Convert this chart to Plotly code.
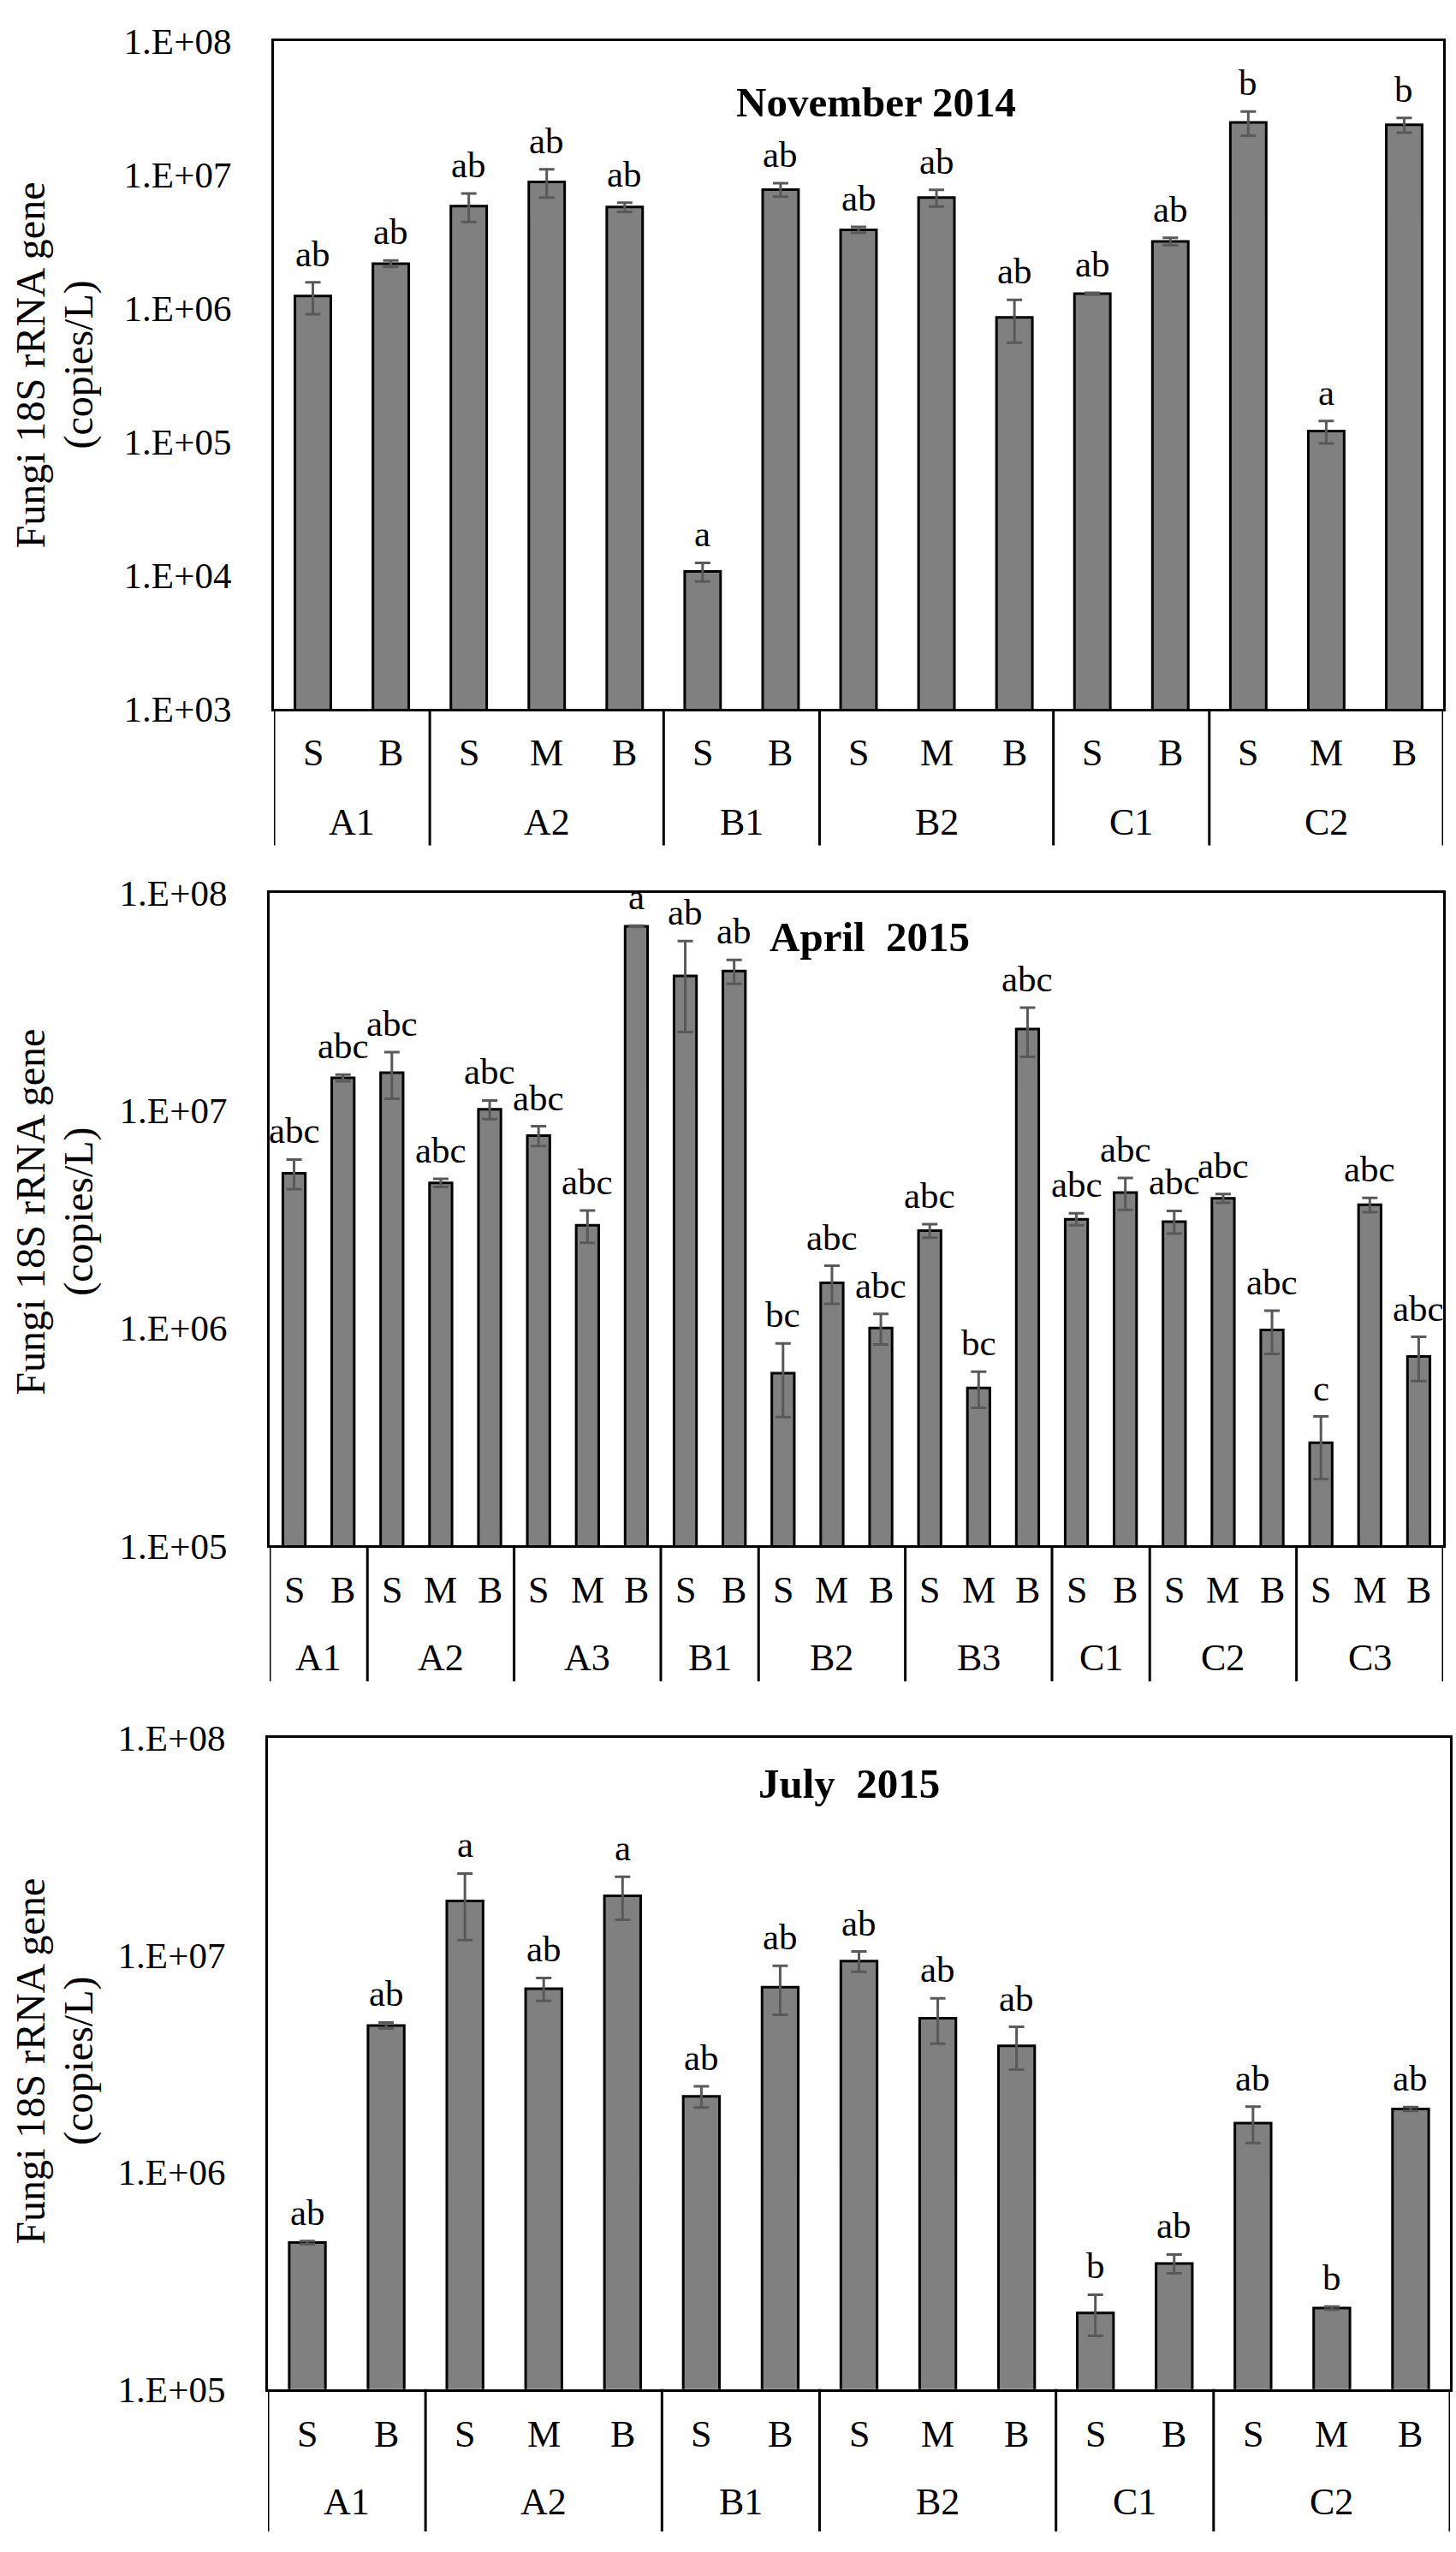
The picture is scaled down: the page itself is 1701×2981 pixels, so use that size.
import math

import plotly.graph_objects as go

W, H = 1701, 2981
SERIF = "Liberation Serif"

# ---- November 2014 -------------------------------------------------------
nov_groups = ["A1", "A2", "B1", "B2", "C1", "C2"]
nov_sites = [["S", "B"], ["S", "M", "B"], ["S", "B"], ["S", "M", "B"], ["S", "B"], ["S", "M", "B"]]
nov_values = [1.23e6, 2.15e6, 5.8e6, 8.8e6, 5.7e6, 1.07e4, 7.7e6, 3.85e6, 6.7e6,
              8.5e5, 1.28e6, 3.15e6, 2.45e7, 1.2e5, 2.35e7]
nov_err = [3.3e5, 1.2e5, 1.4e6, 2.1e6, 4.5e5, 1.7e3, 9e5, 2e5, 9.5e5,
           3e5, 2e4, 2e5, 5e6, 2.3e4, 3e6]
nov_letters = ["ab", "ab", "ab", "ab", "ab", "a", "ab", "ab", "ab", "ab", "ab", "ab", "b", "a", "b"]

# ---- April 2015 ----------------------------------------------------------
apr_groups = ["A1", "A2", "A3", "B1", "B2", "B3", "C1", "C2", "C3"]
apr_sites = [["S", "B"], ["S", "M", "B"], ["S", "M", "B"], ["S", "B"], ["S", "M", "B"],
             ["S", "M", "B"], ["S", "B"], ["S", "M", "B"], ["S", "M", "B"]]
apr_values = [5.14e6, 1.41e7, 1.49e7, 4.64e6, 1.01e7, 7.65e6, 2.96e6, 7.0e7,
              4.14e7, 4.36e7, 6.2e5, 1.61e6, 1.0e6, 2.8e6, 5.3e5, 2.36e7,
              3.16e6, 4.19e6, 3.08e6, 3.94e6, 9.8e5, 2.97e5, 3.68e6, 7.4e5]
apr_err = [8e5, 5e5, 3.6e6, 2e5, 1e6, 8e5, 5e5, 5e5,
           1.85e7, 5.5e6, 2.3e5, 3.2e5, 1.6e5, 2e5, 1e5, 6e6,
           2e5, 7e5, 3.7e5, 1.8e5, 2.2e5, 9.5e4, 2.8e5, 1.7e5]
apr_letters = ["abc", "abc", "abc", "abc", "abc", "abc", "abc", "a",
               "ab", "ab", "bc", "abc", "abc", "abc", "bc", "abc",
               "abc", "abc", "abc", "abc", "abc", "c", "abc", "abc"]

# ---- July 2015 -----------------------------------------------------------
jul_groups = ["A1", "A2", "B1", "B2", "C1", "C2"]
jul_sites = [["S", "B"], ["S", "M", "B"], ["S", "B"], ["S", "M", "B"], ["S", "B"], ["S", "M", "B"]]
jul_values = [4.73e5, 4.73e6, 1.77e7, 6.98e6, 1.87e7, 2.23e6, 7.1e6, 9.36e6, 5.1e6,
              3.81e6, 2.24e5, 3.79e5, 1.68e6, 2.36e5, 1.95e6]
jul_err = [8e3, 1.5e5, 6e6, 8.5e5, 4.2e6, 2.5e5, 1.8e6, 1e6, 1.2e6,
           8.5e5, 4.8e4, 3.8e4, 3.2e5, 4e3, 4e4]
jul_letters = ["ab", "ab", "a", "ab", "a", "ab", "ab", "ab", "ab", "ab", "b", "ab", "ab", "b", "ab"]

y_title = ["Fungi 18S rRNA gene", "(copies/L)"]

# pixel layout of each panel (left, right, top, bottom, sub-label row, group row, divider end)
panels = [
    dict(title="November 2014", groups=nov_groups, sites=nov_sites, values=nov_values,
         err=nov_err, letters=nov_letters, decades=(3, 8),
         box=(320, 1686, 25, 818), sub_y=870, grp_y=953, div_end=980,
         title_xy=(1023, 98), ytitle_y=410),
    dict(title="April  2015", groups=apr_groups, sites=apr_sites, values=apr_values,
         err=apr_err, letters=apr_letters, decades=(5, 8),
         box=(315, 1686, 1036, 1811), sub_y=1864, grp_y=1944, div_end=1972,
         title_xy=(1016, 1089), ytitle_y=1415),
    dict(title="July  2015", groups=jul_groups, sites=jul_sites, values=jul_values,
         err=jul_err, letters=jul_letters, decades=(5, 8),
         box=(313, 1694, 2039, 2812), sub_y=2866, grp_y=2946, div_end=2981,
         title_xy=(992, 2094), ytitle_y=2423),
]


def px_x(v):
    return v / W


def px_y(v):
    return 1 - v / H


fig = go.Figure()
annotations = []
shapes = []

for i, p in enumerate(panels, start=1):
    sfx = "" if i == 1 else str(i)
    xa, ya = "x" + sfx, "y" + sfx
    left, right, top, bottom = p["box"]
    n = len(p["values"])
    idx = list(range(n))

    fig.add_trace(go.Bar(
        x=idx, y=p["values"], xaxis=xa, yaxis=ya, width=0.46,
        marker=dict(color="#808080", line=dict(color="black", width=3)),
        error_y=dict(type="data", array=p["err"], color="#595959", thickness=3, width=9),
        showlegend=False, hoverinfo="skip",
    ))

    lo, hi = p["decades"]
    axis_line = dict(showline=True, linecolor="black", linewidth=3, mirror=True,
                     showgrid=False, zeroline=False, ticks="")
    fig.update_layout(**{
        "xaxis" + sfx: dict(domain=[px_x(left), px_x(right)], anchor=ya,
                            range=[-0.5, n - 0.5], showticklabels=False, **axis_line),
        "yaxis" + sfx: dict(domain=[px_y(bottom), px_y(top)], anchor=xa, type="log",
                            range=[lo, hi], tickvals=[10 ** k for k in range(lo, hi + 1)],
                            ticktext=["1.E+%02d" % k for k in range(lo, hi + 1)],
                            tickfont=dict(family=SERIF, size=43, color="black"),
                            ticklabelstandoff=38, **axis_line),
    })

    # significance letters above error bars (log axis: annotation y in log10 units)
    for j in idx:
        annotations.append(dict(
            x=j, y=math.log10(p["values"][j] + p["err"][j]), xref=xa, yref=ya,
            text=p["letters"][j], showarrow=False, yanchor="bottom", yshift=8,
            font=dict(family=SERIF, size=43, color="black"),
        ))

    # two-level category labels with dividers
    start = 0
    bounds = [-0.5]
    for g, sites in zip(p["groups"], p["sites"]):
        for k, s in enumerate(sites):
            annotations.append(dict(
                x=start + k, y=px_y(p["sub_y"]), xref=xa, yref="paper", text=s,
                showarrow=False, yanchor="middle",
                font=dict(family=SERIF, size=44, color="black"),
            ))
        annotations.append(dict(
            x=start + (len(sites) - 1) / 2, y=px_y(p["grp_y"]), xref=xa, yref="paper", text=g,
            showarrow=False, yanchor="middle",
            font=dict(family=SERIF, size=44, color="black"),
        ))
        start += len(sites)
        bounds.append(start - 0.5)
    for b in bounds:
        shapes.append(dict(type="line", xref=xa, yref="paper", x0=b, x1=b,
                           y0=px_y(bottom), y1=px_y(p["div_end"]),
                           line=dict(color="black", width=3)))

    # panel title
    tx, ty = p["title_xy"]
    annotations.append(dict(
        x=px_x(tx), y=px_y(ty), xref="paper", yref="paper", text="<b>%s</b>" % p["title"],
        showarrow=False, xanchor="center", yanchor="middle",
        font=dict(family=SERIF, size=49, color="black"),
    ))

    # y-axis title, two rotated lines
    for line_text, lx in zip(y_title, (36, 92)):
        annotations.append(dict(
            x=px_x(lx), y=px_y(p["ytitle_y"]), xref="paper", yref="paper", text=line_text,
            showarrow=False, textangle=-90, xanchor="center", yanchor="middle",
            font=dict(family=SERIF, size=48, color="black"),
        ))

fig.update_layout(
    width=W, height=H,
    margin=dict(l=0, r=0, t=0, b=0),
    paper_bgcolor="white", plot_bgcolor="white",
    annotations=annotations,
    shapes=shapes,
)

fig.write_html("out.html", config={"displayModeBar": False},
               post_script="document.body.style.margin='0';")
